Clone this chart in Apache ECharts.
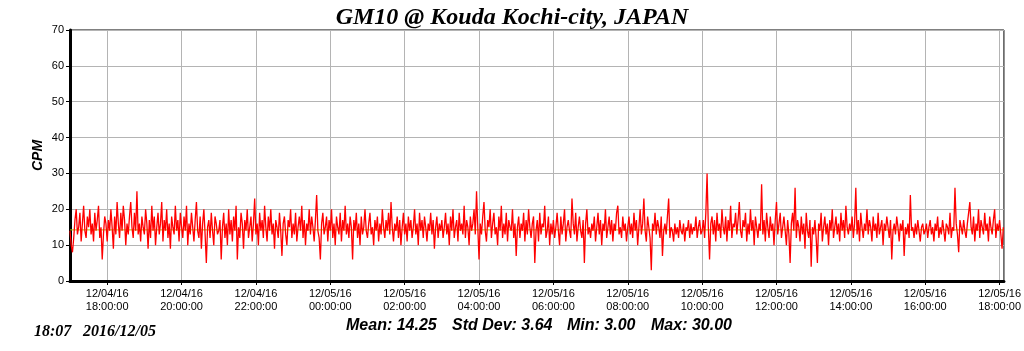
<!DOCTYPE html>
<html>
<head>
<meta charset="utf-8">
<script src="https://cdn.jsdelivr.net/npm/echarts@6/dist/echarts.min.js"></script>
<style>
html, body { margin: 0; padding: 0; background: #fff; }
#chart { width: 1024px; height: 351px; }
</style>
</head>
<body>
<div id="chart"></div>
<script>
// CPM readings, one every 2 minutes, from 12/04/16 17:00 up to 12/05/16 18:06
var cpm = [
	14,10,8,12,17,20,13,15,19,11,16,21,14,12,18,15,20,13,16,11,19,14,17,21,12,15,6,13,18,16,
	11,17,14,20,15,9,18,13,22,16,12,19,14,21,17,10,16,13,18,22,15,12,19,14,25,13,16,11,18,15,
	13,20,16,9,17,12,21,14,18,10,15,19,13,16,22,11,17,14,20,12,16,9,18,15,13,21,14,17,11,19,
	15,12,18,14,21,10,16,13,19,15,11,17,22,14,12,18,9,16,20,13,5,15,17,12,19,14,10,18,16,13,
	14,17,6,15,19,12,16,10,20,13,17,11,18,14,21,6,15,12,19,16,9,17,14,20,12,15,18,11,16,23,
	13,16,10,19,14,17,12,21,15,11,18,14,20,13,16,9,17,15,12,19,14,7,16,18,13,10,17,15,20,12,
	16,13,19,11,15,18,14,21,12,17,10,16,14,20,13,18,15,11,17,24,14,12,6,16,19,13,15,18,11,17,
	14,20,12,16,10,18,15,13,19,11,17,14,21,13,16,12,18,15,6,17,14,19,12,16,10,18,13,15,20,14,
	12,16,19,13,15,10,17,14,18,11,16,13,20,15,12,17,14,19,13,22,15,11,16,14,18,12,17,10,15,19,
	13,16,11,18,14,17,12,15,20,13,16,10,19,14,17,12,18,15,11,16,14,19,13,17,9,15,18,12,16,14,
	17,12,15,19,13,16,10,18,14,20,12,15,17,11,19,14,16,13,21,12,17,15,10,18,14,16,20,13,25,15,
	6,16,13,18,22,14,11,17,15,20,12,16,19,13,15,10,18,14,21,12,16,13,19,11,17,15,14,20,12,16,
	7,15,18,12,16,14,19,11,17,13,20,15,12,16,18,5,14,17,11,19,13,16,15,21,12,14,18,10,16,13,
	17,12,15,19,14,10,18,13,16,20,11,15,17,14,12,23,16,13,19,11,15,18,14,12,17,5,16,20,13,15,
	12,16,14,18,11,15,19,13,17,10,16,14,20,12,15,18,13,17,11,16,14,19,21,13,15,12,18,14,16,11,
	15,18,13,16,12,19,14,17,10,15,20,13,16,23,14,11,18,15,12,3,16,14,19,13,17,15,12,18,7,14,
	16,13,18,23,12,15,14,11,16,13,15,12,17,14,13,16,11,15,14,17,12,16,13,15,14,18,12,15,17,13,
	14,17,12,19,30,15,6,16,18,13,17,11,19,14,16,12,20,15,13,18,11,17,14,21,12,16,15,19,13,17,
	22,14,12,17,15,19,11,16,13,20,14,17,10,18,15,12,16,14,27,13,17,11,19,15,12,18,14,16,10,17,
	22,13,16,19,12,15,18,14,10,17,13,5,16,19,14,26,12,17,15,11,18,13,16,9,19,14,12,17,4,15,
	13,17,12,5,16,14,19,11,15,18,13,16,10,17,14,20,12,15,18,13,16,11,19,14,17,12,21,15,13,16,
	14,18,12,16,26,13,17,11,19,15,12,16,14,20,13,17,15,11,18,14,16,12,19,13,15,17,10,16,14,18,
	15,12,17,6,14,16,13,18,15,11,16,14,17,7,15,13,16,12,24,14,15,12,16,13,17,14,11,15,16,13,
	14,16,12,15,17,13,15,11,16,14,18,12,15,13,17,14,11,16,15,13,19,12,15,14,26,16,13,8,17,15,
	13,17,14,12,16,19,22,15,13,18,11,16,14,20,12,17,15,13,19,14,16,11,18,15,13,17,20,12,16,14,
	17,13,9,15
];
var meanCpm = 14.25;
var statsText = ["Mean: 14.25", "Std Dev: 3.64", "Min: 3.00", "Max: 30.00"];
var stampText = ["18:07", "2016/12/05"];
var yTicks = [0, 10, 20, 30, 40, 50, 60, 70];

var HOUR = 3600 * 1000;
var t0 = Date.UTC(2016, 11, 4, 17, 0);
var tEnd = Date.UTC(2016, 11, 5, 18, 7);
var stepMs = 2 * 60 * 1000;

var seriesData = cpm.map((v, i) => [t0 + i * stepMs, v]);

// tick every 2 hours from 12/04 18:00
var xTicks = [];
for (var t = Date.UTC(2016, 11, 4, 18, 0); t <= tEnd; t += 2 * HOUR) xTicks.push(t);

function pad(n) { return (n < 10 ? "0" : "") + n; }
function fmtTime(v) {
	var d = new Date(v);
	return pad(d.getUTCMonth() + 1) + "/" + pad(d.getUTCDate()) + "/" + pad(d.getUTCFullYear() % 100) +
		"\n" + pad(d.getUTCHours()) + ":" + pad(d.getUTCMinutes()) + ":00";
}

// footer text pieces, x positions
var statsX = [346, 452, 567, 651];
var footer = statsText.map((s, i) => ({
	type: "text",
	left: statsX[i], top: 318,
	style: { text: s, font: "italic bold 16px 'Liberation Sans'", fill: "#000" }
}));
footer.push({
	type: "text", left: 34, top: 324,
	style: { text: stampText[0], font: "italic bold 16px 'Liberation Serif'", fill: "#000" }
});
footer.push({
	type: "text", left: 83, top: 324,
	style: { text: stampText[1], font: "italic bold 16px 'Liberation Serif'", fill: "#000" }
});

var mychart = echarts.init(document.getElementById("chart"));
var option = {
	animation: false,
	backgroundColor: "#fff",
	title: {
		text: "GM10 @ Kouda Kochi-city, JAPAN",
		left: "center",
		top: 1,
		textStyle: {
			fontFamily: "Liberation Serif",
			fontStyle: "italic",
			fontWeight: "bold",
			fontSize: 24,
			color: "#000"
		}
	},
	grid: {
		left: 70, right: 20, top: 30, bottom: 70,
		show: true, borderColor: "#000", borderWidth: 1
	},
	xAxis: {
		type: "value",
		min: t0,
		max: tEnd,
		axisLine: { lineStyle: { color: "#000", width: 3 } },
		axisTick: { customValues: xTicks, length: 4, lineStyle: { color: "#000" } },
		axisLabel: {
			customValues: xTicks,
			formatter: fmtTime,
			fontFamily: "Liberation Sans",
			fontSize: 11,
			lineHeight: 13,
			color: "#000",
			margin: 6
		},
		splitLine: { show: true, lineStyle: { color: "#b4b4b4", width: 1 } }
	},
	yAxis: {
		type: "value",
		min: 0, max: 70, interval: 10,
		name: "CPM",
		nameLocation: "middle",
		nameGap: 25,
		nameMoveOverlap: false,
		nameTextStyle: {
			fontFamily: "Liberation Sans",
			fontStyle: "italic",
			fontWeight: "bold",
			fontSize: 14,
			color: "#000"
		},
		axisLine: { show: true, lineStyle: { color: "#000", width: 3 } },
		axisTick: { show: true, length: 4, lineStyle: { color: "#000" } },
		axisLabel: {
			customValues: yTicks,
			fontFamily: "Liberation Sans",
			fontSize: 11,
			color: "#000",
			margin: 6
		},
		splitLine: { show: true, lineStyle: { color: "#b4b4b4", width: 1 } }
	},
	series: [
		{
			type: "line",
			data: [[t0, meanCpm], [tEnd, meanCpm]],
			symbol: "none",
			z: 1,
			lineStyle: { color: "#b8b800", width: 1 }
		},
		{
			type: "line",
			data: seriesData,
			symbol: "none",
			sampling: "none",
			z: 2,
			lineStyle: { color: "#ff0000", width: 1.3 }
		}
	],
	graphic: footer
};
mychart.setOption(option);
</script>
</body>
</html>
